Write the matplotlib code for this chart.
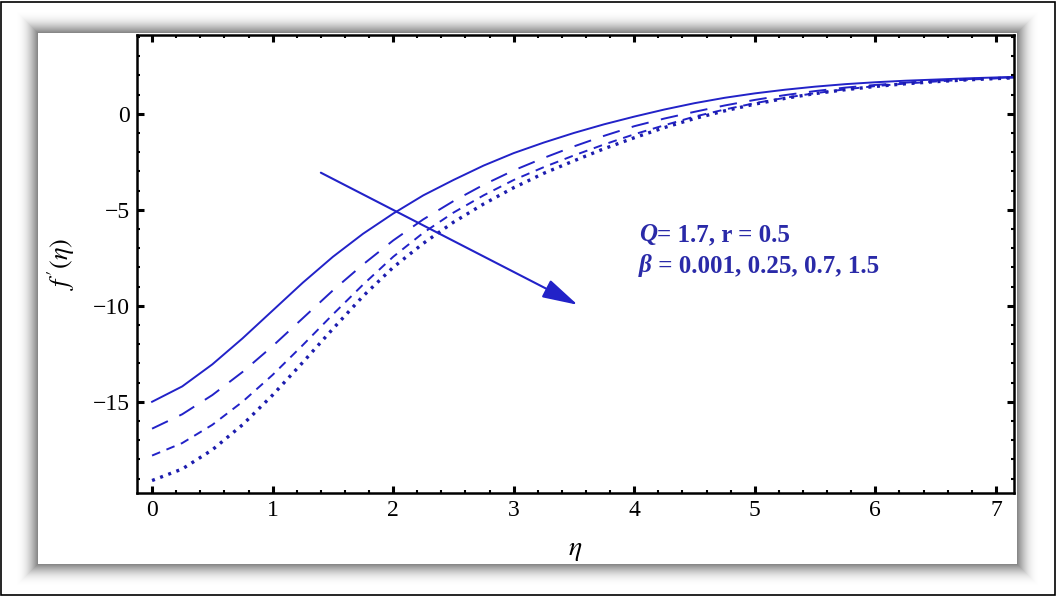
import matplotlib
matplotlib.use('Agg')
import matplotlib.pyplot as plt
from matplotlib.patches import Rectangle

# data
eta = [0, 0.25, 0.5, 0.75, 1, 1.25, 1.5, 1.75, 2, 2.25, 2.5, 2.75, 3, 3.25, 3.5, 3.75,
       4, 4.25, 4.5, 4.75, 5, 5.25, 5.5, 5.75, 6, 6.25, 6.5, 6.75, 7, 7.15]
f_b0001 = [-15.0, -14.2, -13.05, -11.7, -10.25, -8.8, -7.45, -6.25, -5.2, -4.25, -3.45, -2.7, -2.05, -1.5, -1.0,
           -0.55, -0.15, 0.22, 0.55, 0.83, 1.06, 1.25, 1.41, 1.54, 1.64, 1.72, 1.78, 1.84, 1.89, 1.92]
f_b025 = [-16.4, -15.65, -14.65, -13.45, -12.1, -10.65, -9.2, -7.85, -6.6, -5.5, -4.55, -3.7, -2.95, -2.3, -1.7,
          -1.15, -0.65, -0.25, 0.1, 0.43, 0.72, 0.97, 1.18, 1.36, 1.5, 1.62, 1.72, 1.8, 1.86, 1.9]
f_b07 = [-17.8, -17.15, -16.2, -15.0, -13.6, -12.05, -10.45, -8.9, -7.45, -6.2, -5.15, -4.25, -3.45, -2.78, -2.17,
         -1.6, -1.07, -0.6, -0.15, 0.22, 0.55, 0.83, 1.07, 1.27, 1.44, 1.57, 1.68, 1.77, 1.84, 1.88]
f_b15 = [-19.1, -18.5, -17.5, -16.2, -14.65, -12.95, -11.2, -9.5, -8.0, -6.75, -5.65, -4.7, -3.85, -3.1, -2.45,
         -1.82, -1.25, -0.72, -0.25, 0.15, 0.5, 0.8, 1.05, 1.25, 1.42, 1.56, 1.67, 1.76, 1.83, 1.87]

xticks = [0, 1, 2, 3, 4, 5, 6, 7]
yticks = [0, -5, -10, -15]

plt.rcParams['font.family'] = ['Liberation Serif', 'DejaVu Serif']
plt.rcParams['mathtext.fontset'] = 'stix'

W, H = 1056, 596
fig = plt.figure(figsize=(W / 100, H / 100), dpi=100)


def box(x0, y0, x1, y1):
    # pixel box (top-left origin) -> figure fraction rect
    return (x0 / W, 1 - y1 / H), (x1 - x0) / W, (y1 - y0) / H


# outer thin frame
fig.patches.append(Rectangle((0.5 / W, 1.5 / H), (W - 2) / W, (H - 3) / H, transform=fig.transFigure,
                             fill=False, edgecolor='black', lw=1.2, zorder=-10))
# soft shadow around the white panel
px0, py0, px1, py1 = 38, 33, 1017, 564
for k in range(25, 0, -1):
    xy, w, h = box(px0 - k, py0 - k, px1 + k, py1 + k)
    fig.patches.append(Rectangle(xy, w, h, transform=fig.transFigure, facecolor='black',
                                 edgecolor='none', alpha=0.07 * (1 - k / 26) ** 2, zorder=-9))
xy, w, h = box(px0, py0, px1, py1)
fig.patches.append(Rectangle(xy, w, h, transform=fig.transFigure, facecolor='white',
                             edgecolor='none', zorder=-8))

ax = fig.add_axes([137 / W, 1 - 493 / H, (1014 - 137) / W, (493 - 35) / H])

blue = '#2222c8'
ax.plot(eta, f_b0001, color=blue, lw=1.4)
ax.plot(eta, f_b025, color=blue, lw=1.4, dashes=(9, 6.5))
ax.plot(eta, f_b07, color=blue, lw=1.4, dashes=(4.5, 3.5))
ax.plot(eta, f_b15, color='#1c1cae', lw=2.4, dashes=(0.9, 1.7))

ax.set_xlim(-0.125, 7.15)
ax.set_ylim(-19.75, 4.1)
ax.set_xticks(xticks)
ax.set_yticks(yticks)
ax.set_xticks([i * 0.2 for i in range(36)], minor=True)
ax.set_yticks(list(range(-19, 5)), minor=True)
ax.tick_params(which='both', direction='in', top=True, right=True, labelsize=17, pad=5)
ax.tick_params(which='major', length=5, width=2.2)
ax.tick_params(which='minor', length=2.5, width=1.5)
for s in ax.spines.values():
    s.set_linewidth(1.8)

ax.set_xlabel(r'$\eta$', fontsize=20, va='center')
ax.xaxis.set_label_coords(0.5, -0.125)
ax.set_ylabel(r"$f\,'(\eta)$", fontsize=19, va='center')
ax.yaxis.set_label_coords(-0.087, 0.5)

ax.annotate('', xy=(3.53, -9.95), xytext=(1.40, -3.07),
            arrowprops=dict(arrowstyle='-|>,head_length=1.1,head_width=0.3', color=blue,
                            lw=1.5, mutation_scale=20, shrinkA=0, shrinkB=0))

tcol = '#2a2aa8'
t1 = ax.text(4.04, -6.3, 'Q', color=tcol, fontsize=18, fontweight='bold', fontstyle='italic', va='center')
ax.annotate('= 1.7, r = 0.5', xy=(1, 0.5), xycoords=t1, color=tcol, fontsize=18,
            fontweight='bold', va='center')
t2 = ax.text(4.04, -7.9, '\u03b2', color=tcol, fontsize=18, fontweight='bold', fontstyle='italic', va='center')
ax.annotate(' = 0.001, 0.25, 0.7, 1.5', xy=(1, 0.5), xycoords=t2, color=tcol, fontsize=18,
            fontweight='bold', va='center')

plt.savefig('out.png', dpi=100)
